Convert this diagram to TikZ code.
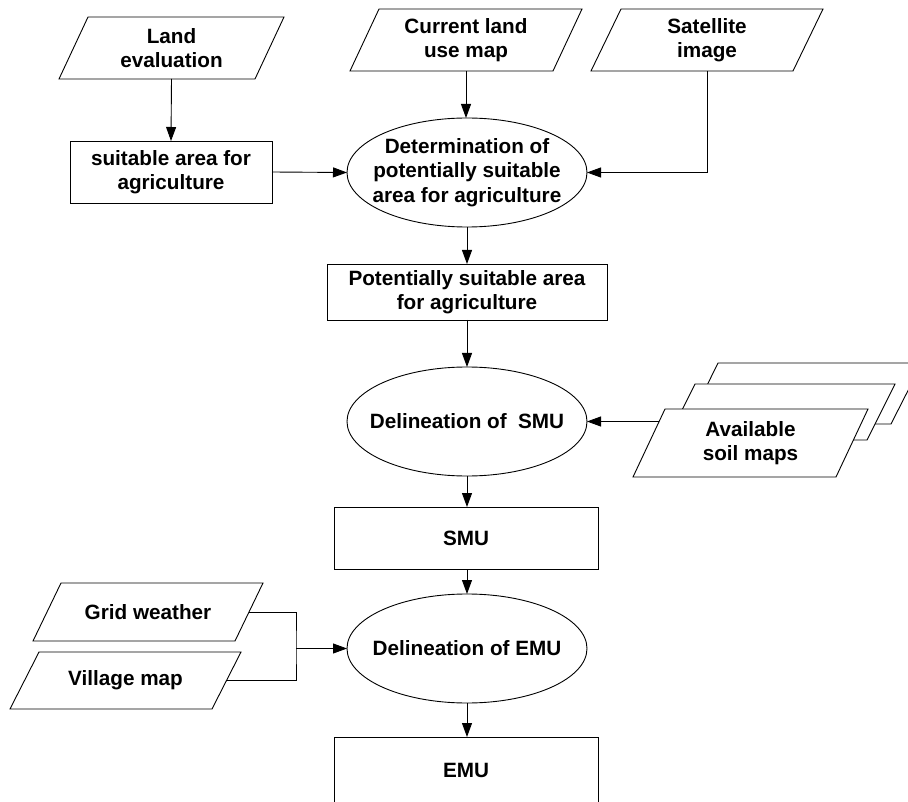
\documentclass[tikz,border=0pt]{standalone}
\usepackage{fontspec}
\setmainfont{Liberation Sans}
\usetikzlibrary{shapes.geometric,arrows.meta,calc}

% data sheet: slanted outline plus a named text node on its centre line
% #1 name, #2 cx, #3 cy, #4 mid width, #5 height, #6 slant, #7 text
\newcommand\datasheet[7]{%
  \path[sheet] (#2-#4/2+#6/2,#3-#5/2) -- (#2+#4/2+#6/2,#3-#5/2)
     -- (#2+#4/2-#6/2,#3+#5/2) -- (#2-#4/2-#6/2,#3+#5/2) -- cycle;
  \node[txt,minimum width=#4,minimum height=#5] (#1) at (#2,#3) {#7};
}

\begin{document}
\begin{tikzpicture}[x=1pt,y=-1pt,
  line/.style={draw=black,line width=0.9pt},
  arr/.style={line,-{Triangle[length=14pt,width=10pt]}},
  txt/.style={align=center,inner sep=0pt,outer sep=0pt,
              font=\fontsize{20.7}{24.5}\selectfont\bfseries},
  box/.style={txt,line,rectangle},
  oval/.style={line,ellipse,inner sep=0pt,outer sep=0pt,
               minimum width=240pt,minimum height=109pt},
  sheet/.style={line,fill=white,line join=miter}]

\useasboundingbox[fill=white] (0,0) rectangle (908,802);

% inputs along the top
\datasheet{land}{171.5}{48}{196}{62}{29}{Land\\evaluation}
\datasheet{landuse}{466}{40}{203}{62}{29}{Current land\\use map}
\datasheet{sat}{707}{40}{202}{62}{30}{Satellite\\image}

\node[box,minimum width=202pt,minimum height=62pt] (suit) at (171,172)
  {suitable area for\\agriculture};
\node[oval] (det) at (467,172.5) {};
\node[txt] (dettext) at (det.center)
  {Determination of\\potentially suitable\\area for agriculture};
\node[box,minimum width=280pt,minimum height=56pt] (pot) at (467,292)
  {Potentially suitable area\\for agriculture};

% stack of soil maps (back to front)
\path[sheet] (718,363) -- (922,363) -- (891,424) -- (688,424) -- cycle;
\path[sheet] (695,384) -- (895,384) -- (867,440) -- (667,440) -- cycle;
\datasheet{soil}{750.5}{443}{203}{68}{32}{Available\\soil maps}
\coordinate (soilin) at (659,421.5);

\node[oval] (smu) at (467,421.5) {};
\node[txt] (smutext) at (smu.center) {Delineation of\ \ SMU};
\node[box,minimum width=264pt,minimum height=62pt] (smubox) at (466,538) {SMU};

% weather and village inputs
\datasheet{grid}{148}{612}{202}{58}{28}{Grid weather}
\datasheet{village}{125.5}{680.5}{202}{57}{29}{Village map}
\coordinate (jn) at (296,648.5);

\node[oval] (emu) at (467,648.5) {};
\node[txt] (emutext) at (emu.center) {Delineation of EMU};
\node[box,minimum width=264pt,minimum height=66pt] (emubox) at (466,770) {EMU};

% connectors
\draw[arr] (land.south) -- (suit.north);
\draw[arr] (suit.east) -- (det.west);
\draw[arr] (landuse.south) -- (landuse.south |- det.north);
\draw[arr] (sat.south) |- (det.east);
\draw[arr] (det.south) -- (pot.north);
\draw[arr] (pot.south) -- (smu.north);
\draw[arr] (soilin) -- (smu.east);
\draw[arr] (smu.south) -- (smu.south |- smubox.north);
\draw[arr] (smubox.south -| emu.north) -- (emu.north);
\draw[line] (grid.east) -| (jn) |- (village.east);
\draw[arr] (jn) -- (emu.west);
\draw[arr] (emu.south) -- (emu.south |- emubox.north);
\end{tikzpicture}
\end{document}
